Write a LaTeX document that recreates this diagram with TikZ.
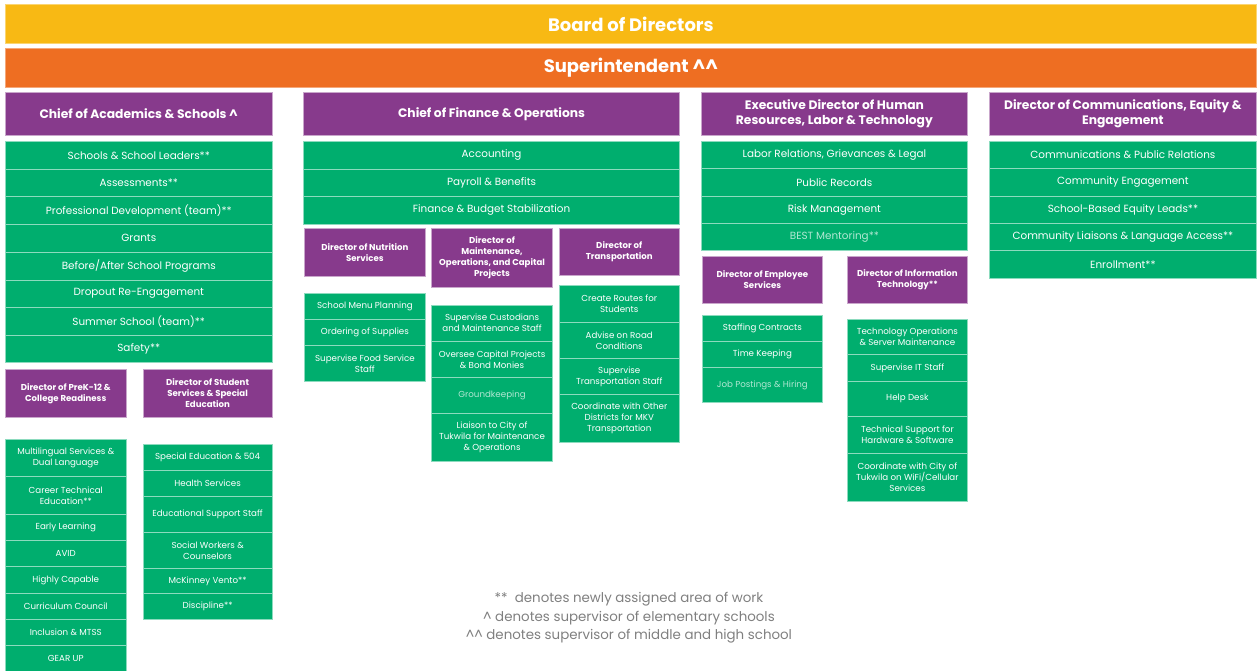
\documentclass[tikz,border=0pt]{standalone}
\usepackage{fontspec}
\setmainfont{Poppins}
\definecolor{boardyellow}{HTML}{F8B914}
\definecolor{suptorange}{HTML}{EE6E22}
\definecolor{headpurple}{HTML}{873A8C}
\definecolor{itemgreen}{HTML}{00AE6E}
\definecolor{notegray}{HTML}{7F7F7F}

\begin{document}
\begin{tikzpicture}[x=1pt,y=-1pt,
    cell/.style={anchor=north west,inner sep=0pt,align=center,text=white,line width=0.8pt},
    topbar/.style={cell,fill=#1,draw=#1!60!white,minimum width=1251,minimum height=38.4,font=\fontsize{18}{20}\selectfont\bfseries},
    head/.style={cell,fill=headpurple,draw=headpurple!45!white,minimum height=43,font=\fontsize{12.3}{15}\selectfont\bfseries},
    dir/.style={cell,fill=headpurple,draw=headpurple!45!white,font=\fontsize{8.6}{11}\selectfont\bfseries},
    item/.style={cell,fill=itemgreen,draw=itemgreen!45!white,font=\fontsize{10.4}{12}\selectfont},
    subitem/.style={cell,fill=itemgreen,draw=itemgreen!45!white,font=\fontsize{8.7}{11}\selectfont},
    faded/.style={text=itemgreen!30!white}]
\useasboundingbox (0,0) rectangle (1258,670);

% top of the chart
\node[topbar=boardyellow] (board) at (5,4.3) {Board of Directors};
\node[topbar=suptorange] (supt) at (5,48.3) {Superintendent \textasciicircum\textasciicircum};

% academics & schools
\node[head,minimum width=266.7] (chiefacad) at (5,92) {Chief of Academics \& Schools \textasciicircum};
\node[item,minimum width=266.7,minimum height=27.7] (acad1) at (5,141) {Schools \& School Leaders**};
\node[item,minimum width=266.7,minimum height=27.7] (acad2) at (5,168.7) {Assessments**};
\node[item,minimum width=266.7,minimum height=27.7] (acad3) at (5,196.4) {Professional Development (team)**};
\node[item,minimum width=266.7,minimum height=27.7] (acad4) at (5,224.1) {Grants};
\node[item,minimum width=266.7,minimum height=27.7] (acad5) at (5,251.8) {Before/After School Programs};
\node[item,minimum width=266.7,minimum height=27.7] (acad6) at (5,279.5) {Dropout Re-Engagement};
\node[item,minimum width=266.7,minimum height=27.7] (acad7) at (5,307.2) {Summer School (team)**};
\node[item,minimum width=266.7,minimum height=27.4] (acad8) at (5,334.9) {Safety**};

\node[dir,minimum width=120.7,minimum height=47.4] (dirprek) at (5,369.3) {Director of PreK-12 \&\\College Readiness};
\node[subitem,minimum width=120.7,minimum height=37] (prek1) at (5,439) {Multilingual Services \&\\Dual Language};
\node[subitem,minimum width=120.7,minimum height=37.7] (prek2) at (5,476) {Career Technical\\Education**};
\node[subitem,minimum width=120.7,minimum height=26.3] (prek3) at (5,513.7) {Early Learning};
\node[subitem,minimum width=120.7,minimum height=26.3] (prek4) at (5,540) {AVID};
\node[subitem,minimum width=120.7,minimum height=26.4] (prek5) at (5,566.3) {Highly Capable};
\node[subitem,minimum width=120.7,minimum height=26.3] (prek6) at (5,592.7) {Curriculum Council};
\node[subitem,minimum width=120.7,minimum height=26] (prek7) at (5,619) {Inclusion \& MTSS};
\node[subitem,minimum width=120.7,minimum height=26.5] (prek8) at (5,645) {GEAR UP};

\node[dir,minimum width=129,minimum height=47.4] (dirsss) at (142.7,369.3) {Director of Student\\Services \& Special\\Education};
\node[subitem,minimum width=129,minimum height=25.7] (sss1) at (142.7,444.3) {Special Education \& 504};
\node[subitem,minimum width=129,minimum height=25.7] (sss2) at (142.7,470) {Health Services};
\node[subitem,minimum width=129,minimum height=36] (sss3) at (142.7,495.7) {Educational Support Staff};
\node[subitem,minimum width=129,minimum height=36.6] (sss4) at (142.7,531.7) {Social Workers \&\\Counselors};
\node[subitem,minimum width=129,minimum height=25] (sss5) at (142.7,568.3) {McKinney Vento**};
\node[subitem,minimum width=129,minimum height=26] (sss6) at (142.7,593.3) {Discipline**};

% finance & operations
\node[head,minimum width=375.7] (chieffin) at (303.3,92) {Chief of Finance \& Operations};
\node[item,minimum width=375.7,minimum height=27.5] (fin1) at (303.3,141) {Accounting};
\node[item,minimum width=375.7,minimum height=27.5] (fin2) at (303.3,168.5) {Payroll \& Benefits};
\node[item,minimum width=375.7,minimum height=27.5] (fin3) at (303.3,196) {Finance \& Budget Stabilization};

\node[dir,minimum width=121,minimum height=47.4] (dirnut) at (304,228.3) {Director of Nutrition\\Services};
\node[subitem,minimum width=121,minimum height=25.4] (nut1) at (304,293.3) {School Menu Planning};
\node[subitem,minimum width=121,minimum height=26.3] (nut2) at (304,318.7) {Ordering of Supplies};
\node[subitem,minimum width=121,minimum height=35.7] (nut3) at (304,345) {Supervise Food Service\\Staff};

\node[dir,minimum width=120.7,minimum height=58.4] (dirmaint) at (431.3,228.3) {Director of\\Maintenance,\\Operations, and Capital\\Projects};
\node[subitem,minimum width=120.7,minimum height=36] (maint1) at (431.3,304.7) {Supervise Custodians\\and Maintenance Staff};
\node[subitem,minimum width=120.7,minimum height=36.6] (maint2) at (431.3,340.7) {Oversee Capital Projects\\\& Bond Monies};
\node[subitem,faded,minimum width=120.7,minimum height=36] (maint3) at (431.3,377.3) {Groundkeeping};
\node[subitem,minimum width=120.7,minimum height=47.4] (maint4) at (431.3,413.3) {Liaison to City of\\Tukwila for Maintenance\\\& Operations};

\node[dir,minimum width=120.3,minimum height=46.7] (dirtrans) at (558.7,228.3) {Director of\\Transportation};
\node[subitem,minimum width=120.3,minimum height=36.4] (trans1) at (558.7,285.3) {Create Routes for\\Students};
\node[subitem,minimum width=120.3,minimum height=36.6] (trans2) at (558.7,321.7) {Advise on Road\\Conditions};
\node[subitem,minimum width=120.3,minimum height=36] (trans3) at (558.7,358.3) {Supervise\\Transportation Staff};
\node[subitem,minimum width=120.3,minimum height=48] (trans4) at (558.7,394.3) {Coordinate with Other\\Districts for MKV\\Transportation};

% human resources, labor & technology
\node[head,minimum width=266.6] (exechr) at (700.7,92) {Executive Director of Human\\Resources, Labor \& Technology};
\node[item,minimum width=266.6,minimum height=27.3] (hr1) at (700.7,141) {Labor Relations, Grievances \& Legal};
\node[item,minimum width=266.6,minimum height=27.3] (hr2) at (700.7,168.3) {Public Records};
\node[item,minimum width=266.6,minimum height=27.3] (hr3) at (700.7,195.6) {Risk Management};
\node[item,faded,minimum width=266.6,minimum height=27.3] (hr4) at (700.7,222.9) {BEST Mentoring**};

\node[dir,minimum width=120.6,minimum height=47] (diremp) at (701.7,255.7) {Director of Employee\\Services};
\node[subitem,minimum width=120.6,minimum height=25.7] (emp1) at (701.7,315) {Staffing Contracts};
\node[subitem,minimum width=120.6,minimum height=26.3] (emp2) at (701.7,340.7) {Time Keeping};
\node[subitem,faded,minimum width=120.6,minimum height=35.3] (emp3) at (701.7,367) {Job Postings \& Hiring};

\node[dir,minimum width=120.6,minimum height=47] (dirit) at (846.7,255.7) {Director of Information\\Technology**};
\node[subitem,minimum width=120.6,minimum height=35.6] (it1) at (846.7,318.7) {Technology Operations\\\& Server Maintenance};
\node[subitem,minimum width=120.6,minimum height=26.4] (it2) at (846.7,354.3) {Supervise IT Staff};
\node[subitem,minimum width=120.6,minimum height=35.3] (it3) at (846.7,380.7) {Help Desk};
\node[subitem,minimum width=120.6,minimum height=37] (it4) at (846.7,416) {Technical Support for\\Hardware \& Software};
\node[subitem,minimum width=120.6,minimum height=47.7] (it5) at (846.7,453) {Coordinate with City of\\Tukwila on WiFi/Cellular\\Services};

% communications, equity & engagement
\node[head,minimum width=267] (dircomm) at (989,92) {Director of Communications, Equity \&\\Engagement};
\node[item,minimum width=267,minimum height=27.3] (comm1) at (989,141) {Communications \& Public Relations};
\node[item,minimum width=267,minimum height=27.3] (comm2) at (989,168.3) {Community Engagement};
\node[item,minimum width=267,minimum height=27.3] (comm3) at (989,195.6) {School-Based Equity Leads**};
\node[item,minimum width=267,minimum height=27.3] (comm4) at (989,222.9) {Community Liaisons \& Language Access**};
\node[item,minimum width=267,minimum height=27.3] (comm5) at (989,250.2) {Enrollment**};

% legend
\node[align=center,text=notegray,font=\fontsize{13.4}{18.5}\selectfont] (note) at (629,618)
  {**\ \ denotes newly assigned area of work\\\textasciicircum\ denotes supervisor of elementary schools\\\textasciicircum\textasciicircum\ denotes supervisor of middle and high school};
\end{tikzpicture}
\end{document}
